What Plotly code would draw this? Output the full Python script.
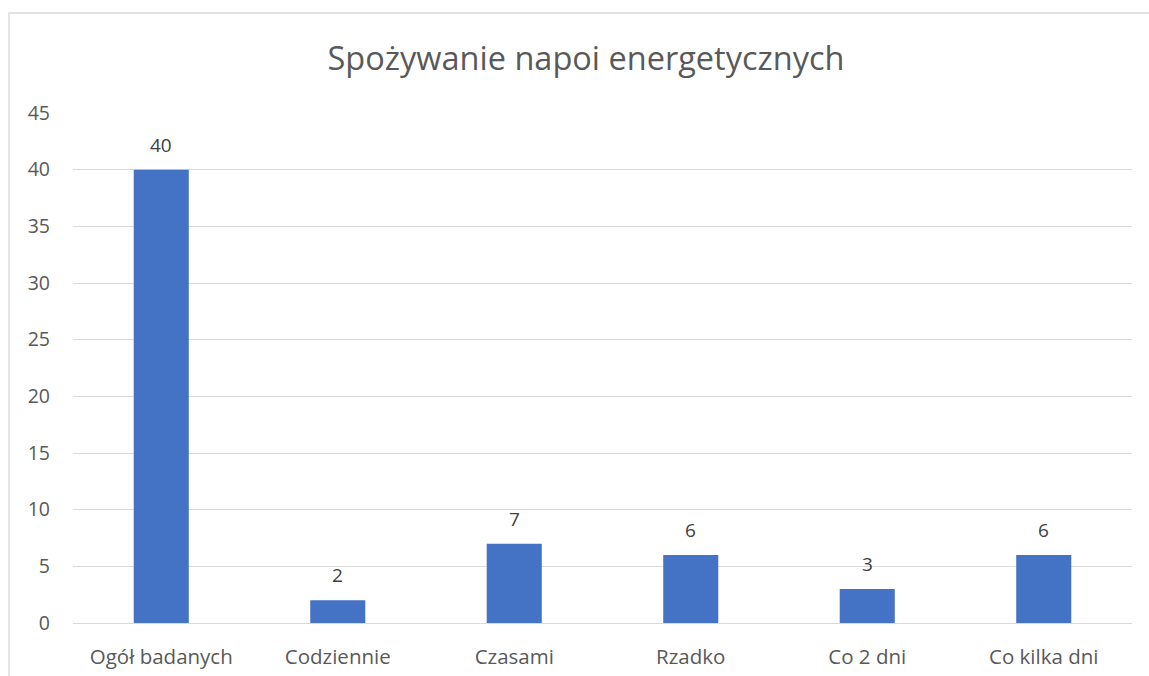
import plotly.graph_objects as go

categories = ["Ogół badanych", "Codziennie", "Czasami", "Rzadko", "Co 2 dni", "Co kilka dni"]
values = [40, 2, 7, 6, 3, 6]
y_ticks = [0, 5, 10, 15, 20, 25, 30, 35, 40, 45]

W, H = 1149, 676
ml, mr, mt, mb = 73, 17, 113, 53
pw = W - ml - mr
ph = H - mt - mb
FONT = "Open Sans, Noto Sans, sans-serif"

fig = go.Figure(go.Bar(
    x=categories, y=values,
    marker=dict(color="#4472C4", line=dict(width=0)),
))

for c, v in zip(categories, values):
    fig.add_annotation(x=c, y=v, text=str(v), showarrow=False, yanchor="middle", yshift=25,
                       font=dict(family=FONT, size=19, color="#404040"))

fig.update_layout(
    width=W, height=H,
    margin=dict(l=ml, r=mr, t=mt, b=mb, autoexpand=False),
    paper_bgcolor="white", plot_bgcolor="white",
    bargap=0.688,
    showlegend=False,
    title=dict(text="Spożywanie napoi energetycznych", xref="container", x=586 / W, xanchor="center",
               y=1 - 59 / H, yanchor="middle",
               font=dict(family=FONT, size=32.5, color="#595959")),
    xaxis=dict(showgrid=False, showline=False, ticks="", ticklabelstandoff=19, automargin=False,
               tickfont=dict(family=FONT, size=20.5, color="#595959")),
    yaxis=dict(range=[0, 45], tickvals=y_ticks, showgrid=True, gridcolor="#D9D9D9", gridwidth=1.3,
               zeroline=True, zerolinecolor="#D9D9D9", zerolinewidth=1.3, showline=False, ticks="",
               ticklabelstandoff=22, automargin=False,
               tickfont=dict(family=FONT, size=19.5, color="#595959")),
    shapes=[dict(type="rect", xref="paper", yref="paper",
                 x0=(9 - ml) / pw, x1=(W + 5 - ml) / pw,
                 y0=(H - mb - (H + 5)) / ph, y1=(H - mb - 13) / ph,
                 line=dict(color="#D9D9D9", width=1.3), fillcolor="rgba(0,0,0,0)", layer="below")],
)

fig.write_html("out.html", config={"displayModeBar": False},
               post_script="document.body.style.margin='0';document.body.style.overflow='hidden';")
